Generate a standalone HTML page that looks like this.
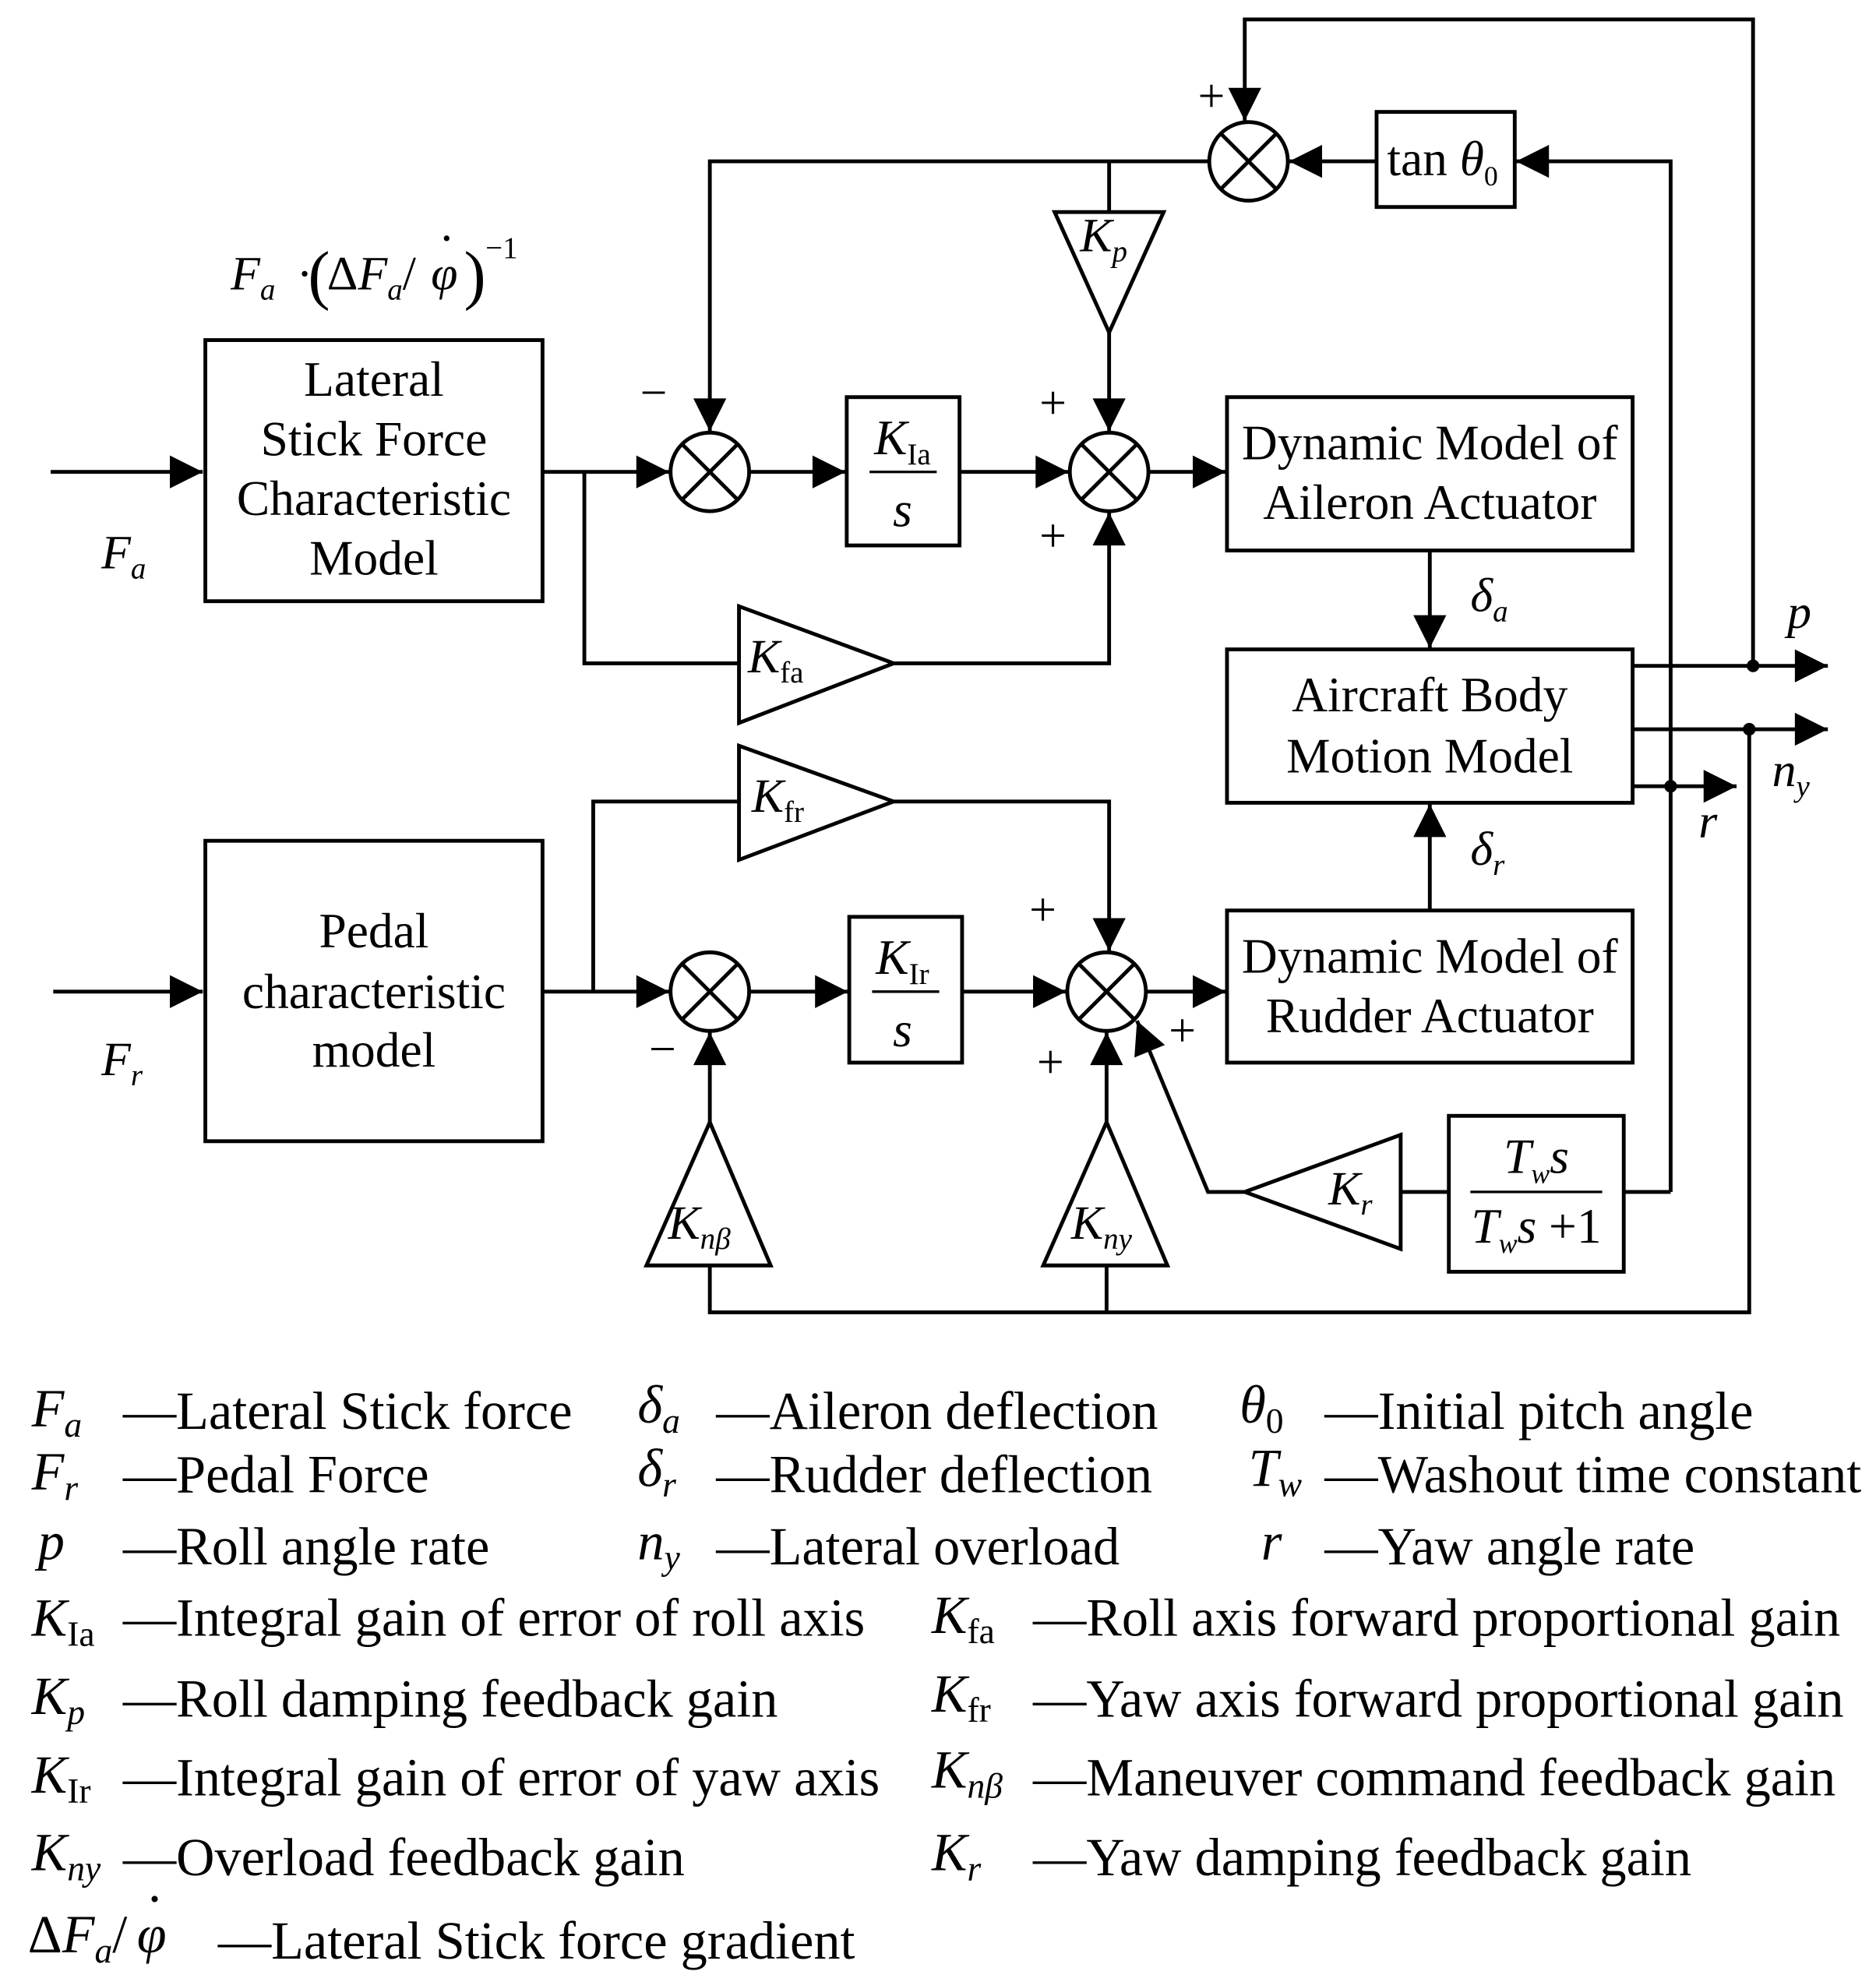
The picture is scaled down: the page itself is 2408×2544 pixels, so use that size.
<!DOCTYPE html>
<html><head><meta charset="utf-8"><style>
html,body{margin:0;padding:0;background:#fff}
svg{display:block}
text{font-family:"Liberation Serif",serif;fill:#000}
.it{font-style:italic}
</style></head><body>
<svg width="2408" height="2544" viewBox="0 0 1480 1563" xmlns="http://www.w3.org/2000/svg">
<defs>
<marker id="A" viewBox="0 0 10 10" refX="10" refY="5" markerWidth="36" markerHeight="26" markerUnits="userSpaceOnUse" orient="auto"><path d="M0,0L10,5L0,10z" fill="#000"/></marker>
</defs>
<g stroke="#000" stroke-width="3" fill="none">
<polyline points="1383,525 1383,15 982,15 982,95" marker-end="url(#A)"/>
<circle cx="985" cy="127" r="31"/>
<line x1="963" y1="105" x2="1007" y2="149"/><line x1="1007" y1="105" x2="963" y2="149"/>
<rect x="1086" y="88" width="109" height="75"/>
<polyline points="1318,940 1318,127 1196,127" marker-end="url(#A)"/>
<line x1="1086" y1="127" x2="1017" y2="127" marker-end="url(#A)"/>
<polyline points="954,127 560,127 560,340" marker-end="url(#A)"/>
<line x1="875" y1="127" x2="875" y2="167"/>
<polygon points="832,167 918,167 875,262"/>
<line x1="875" y1="262" x2="875" y2="340" marker-end="url(#A)"/>
<rect x="162" y="268" width="266" height="206"/>
<line x1="40" y1="372" x2="160" y2="372" marker-end="url(#A)"/>
<line x1="428" y1="372" x2="528" y2="372" marker-end="url(#A)"/>
<circle cx="560" cy="372" r="31"/>
<line x1="538" y1="350" x2="582" y2="394"/><line x1="582" y1="350" x2="538" y2="394"/>
<polyline points="461,372 461,523 583,523"/>
<polygon points="583,478 583,570 705,523"/>
<polyline points="705,523 875,523 875,404" marker-end="url(#A)"/>
<line x1="591" y1="372" x2="667" y2="372" marker-end="url(#A)"/>
<rect x="668" y="313" width="89" height="117"/>
<line x1="757" y1="372" x2="843" y2="372" marker-end="url(#A)"/>
<circle cx="875" cy="372" r="31"/>
<line x1="853" y1="350" x2="897" y2="394"/><line x1="897" y1="350" x2="853" y2="394"/>
<line x1="906" y1="372" x2="967" y2="372" marker-end="url(#A)"/>
<rect x="968" y="313" width="320" height="121"/>
<line x1="1128" y1="434" x2="1128" y2="511" marker-end="url(#A)"/>
<rect x="968" y="512" width="320" height="121"/>
<line x1="1288" y1="525" x2="1442" y2="525" marker-end="url(#A)"/>
<line x1="1288" y1="575" x2="1442" y2="575" marker-end="url(#A)"/>
<line x1="1288" y1="620" x2="1370" y2="620" marker-end="url(#A)"/>
<polyline points="1380,575 1380,1035 560,1035 560,998"/>
<line x1="873" y1="1035" x2="873" y2="998"/>
<line x1="1128" y1="718" x2="1128" y2="634" marker-end="url(#A)"/>
<rect x="968" y="718" width="320" height="120"/>
<rect x="162" y="663" width="266" height="237"/>
<line x1="42" y1="782" x2="160" y2="782" marker-end="url(#A)"/>
<line x1="428" y1="782" x2="528" y2="782" marker-end="url(#A)"/>
<polyline points="468,782 468,632 583,632"/>
<polygon points="583,588 583,678 705,632"/>
<polyline points="705,632 875,632 875,750" marker-end="url(#A)"/>
<circle cx="560" cy="782" r="31"/>
<line x1="538" y1="760" x2="582" y2="804"/><line x1="582" y1="760" x2="538" y2="804"/>
<line x1="591" y1="782" x2="669" y2="782" marker-end="url(#A)"/>
<rect x="670" y="723" width="89" height="115"/>
<line x1="759" y1="782" x2="841" y2="782" marker-end="url(#A)"/>
<circle cx="873" cy="782" r="31"/>
<line x1="851" y1="760" x2="895" y2="804"/><line x1="895" y1="760" x2="851" y2="804"/>
<line x1="904" y1="782" x2="967" y2="782" marker-end="url(#A)"/>
<polygon points="560,885 510,998 608,998"/>
<line x1="560" y1="885" x2="560" y2="814" marker-end="url(#A)"/>
<polygon points="873,885 823,998 921,998"/>
<line x1="873" y1="885" x2="873" y2="814" marker-end="url(#A)"/>
<rect x="1143" y="880" width="138" height="123"/>
<line x1="1318" y1="940" x2="1281" y2="940"/>
<line x1="1143" y1="940" x2="1105" y2="940"/>
<polygon points="1105,895 1105,985 982,940"/>
<polyline points="982,940 953,940 897,805" marker-end="url(#A)"/>
<line x1="1160" y1="940" x2="1264" y2="940" stroke-width="2"/>
<line x1="688" y1="782" x2="741" y2="782" stroke-width="2"/>
<line x1="686" y1="372" x2="739" y2="372" stroke-width="2"/>
</g>
<circle cx="1383" cy="525" r="5"/><circle cx="1380" cy="575" r="5"/><circle cx="1318" cy="620" r="5"/>
<g font-size="39" text-anchor="middle">
<text x="295" y="312">Lateral</text><text x="295" y="359">Stick Force</text><text x="295" y="406">Characteristic</text><text x="295" y="453">Model</text>
<text x="295" y="747">Pedal</text><text x="295" y="795">characteristic</text><text x="295" y="841">model</text>
<text x="1128" y="362">Dynamic Model of</text><text x="1128" y="409">Aileron Actuator</text>
<text x="1128" y="561">Aircraft Body</text><text x="1128" y="609">Motion Model</text>
<text x="1128" y="767">Dynamic Model of</text><text x="1128" y="814">Rudder Actuator</text>
<text x="1138" y="138">tan <tspan class="it">θ</tspan><tspan font-size="22" dy="8">0</tspan></text>
<text x="712" y="358"><tspan class="it">K</tspan><tspan font-size="24" dy="8">Ia</tspan></text>
<text x="712" y="415" class="it">s</text>
<text x="712" y="768"><tspan class="it">K</tspan><tspan font-size="24" dy="8">Ir</tspan></text>
<text x="712" y="825" class="it">s</text>
<text x="1212" y="925" class="it">T<tspan font-size="22" dy="8">w</tspan><tspan dy="-8">s</tspan></text>
<text x="1212" y="980" class="it">T<tspan font-size="22" dy="8">w</tspan><tspan dy="-8">s</tspan><tspan font-style="normal"> +1</tspan></text>
</g>
<g font-size="38">
<text x="852" y="198" class="it">K<tspan font-size="24" dy="8">p</tspan></text>
<text x="590" y="530" class="it">K<tspan font-size="24" dy="8" font-style="normal">fa</tspan></text>
<text x="593" y="640" class="it">K<tspan font-size="24" dy="8" font-style="normal">fr</tspan></text>
<text x="527" y="977" class="it">K<tspan font-size="24" dy="8">nβ</tspan></text>
<text x="845" y="977" class="it">K<tspan font-size="24" dy="8">ny</tspan></text>
<text x="1048" y="950" class="it">K<tspan font-size="24" dy="8">r</tspan></text>
<text x="80" y="448" class="it">F<tspan font-size="24" dy="8">a</tspan></text>
<text x="80" y="848" class="it">F<tspan font-size="24" dy="8">r</tspan></text>
<text x="182" y="228" class="it">F<tspan font-size="24" dy="8">a</tspan></text>
<text x="234" y="228">·</text>
<text x="243" y="234" font-size="52">(</text>
<text x="258" y="228">Δ<tspan class="it">F</tspan><tspan font-size="24" dy="8" class="it">a</tspan><tspan dy="-8">/</tspan></text>
<text x="340" y="228" class="it">φ</text><text x="346" y="200">·</text>
<text x="366" y="234" font-size="52">)</text>
<text x="383" y="203" font-size="24">−1</text>
<text x="1160" y="482" class="it">δ<tspan font-size="24" dy="8">a</tspan></text>
<text x="1160" y="682" class="it">δ<tspan font-size="24" dy="8">r</tspan></text>
<text x="1410" y="495" class="it">p</text>
<text x="1398" y="620" class="it">n<tspan font-size="24" dy="8">y</tspan></text>
<text x="1340" y="660" class="it">r</text>
<text x="945" y="88">+</text><text x="505" y="322">−</text>
<text x="820" y="330">+</text><text x="820" y="435">+</text>
<text x="812" y="730">+</text><text x="512" y="840">−</text>
<text x="818" y="850">+</text><text x="922" y="825">+</text>
</g>
<g font-size="42">
<text x="25" y="1125" class="it">F<tspan font-size="28" dy="8">a</tspan></text><text x="97" y="1127">—Lateral Stick force</text>
<text x="25" y="1175" class="it">F<tspan font-size="28" dy="8">r</tspan></text><text x="97" y="1177">—Pedal Force</text>
<text x="30" y="1230" class="it">p</text><text x="97" y="1234">—Roll angle rate</text>
<text x="25" y="1290" class="it">K<tspan font-size="28" dy="8" font-style="normal">Ia</tspan></text><text x="97" y="1290">—Integral gain of error of roll axis</text>
<text x="25" y="1352" class="it">K<tspan font-size="28" dy="8">p</tspan></text><text x="97" y="1354">—Roll damping feedback gain</text>
<text x="25" y="1414" class="it">K<tspan font-size="28" dy="8" font-style="normal">Ir</tspan></text><text x="97" y="1416">—Integral gain of error of yaw axis</text>
<text x="25" y="1475" class="it">K<tspan font-size="28" dy="8">ny</tspan></text><text x="97" y="1479">—Overload feedback gain</text>
<text x="22" y="1540"><tspan>Δ</tspan><tspan class="it">F</tspan><tspan font-size="28" dy="8" class="it">a</tspan><tspan dy="-8">/</tspan></text>
<text x="108" y="1540" class="it">φ</text><text x="115" y="1512">·</text>
<text x="172" y="1545">—Lateral Stick force gradient</text>
<text x="503" y="1122" class="it">δ<tspan font-size="28" dy="8">a</tspan></text><text x="565" y="1127">—Aileron deflection</text>
<text x="503" y="1172" class="it">δ<tspan font-size="28" dy="8">r</tspan></text><text x="565" y="1177">—Rudder deflection</text>
<text x="503" y="1230" class="it">n<tspan font-size="28" dy="8">y</tspan></text><text x="565" y="1234">—Lateral overload</text>
<text x="978" y="1122" class="it">θ<tspan font-size="28" dy="8" font-style="normal">0</tspan></text><text x="1045" y="1127">—Initial pitch angle</text>
<text x="985" y="1172" class="it">T<tspan font-size="28" dy="8">w</tspan></text><text x="1045" y="1177">—Washout time constant</text>
<text x="995" y="1230" class="it">r</text><text x="1045" y="1234">—Yaw angle rate</text>
<text x="735" y="1288" class="it">K<tspan font-size="28" dy="8" font-style="normal">fa</tspan></text><text x="815" y="1290">—Roll axis forward proportional gain</text>
<text x="735" y="1350" class="it">K<tspan font-size="28" dy="8" font-style="normal">fr</tspan></text><text x="815" y="1354">—Yaw axis forward proportional gain</text>
<text x="735" y="1410" class="it">K<tspan font-size="28" dy="8">nβ</tspan></text><text x="815" y="1416">—Maneuver command feedback gain</text>
<text x="735" y="1475" class="it">K<tspan font-size="28" dy="8">r</tspan></text><text x="815" y="1479">—Yaw damping feedback gain</text>
</g>
</svg>
</body></html>
